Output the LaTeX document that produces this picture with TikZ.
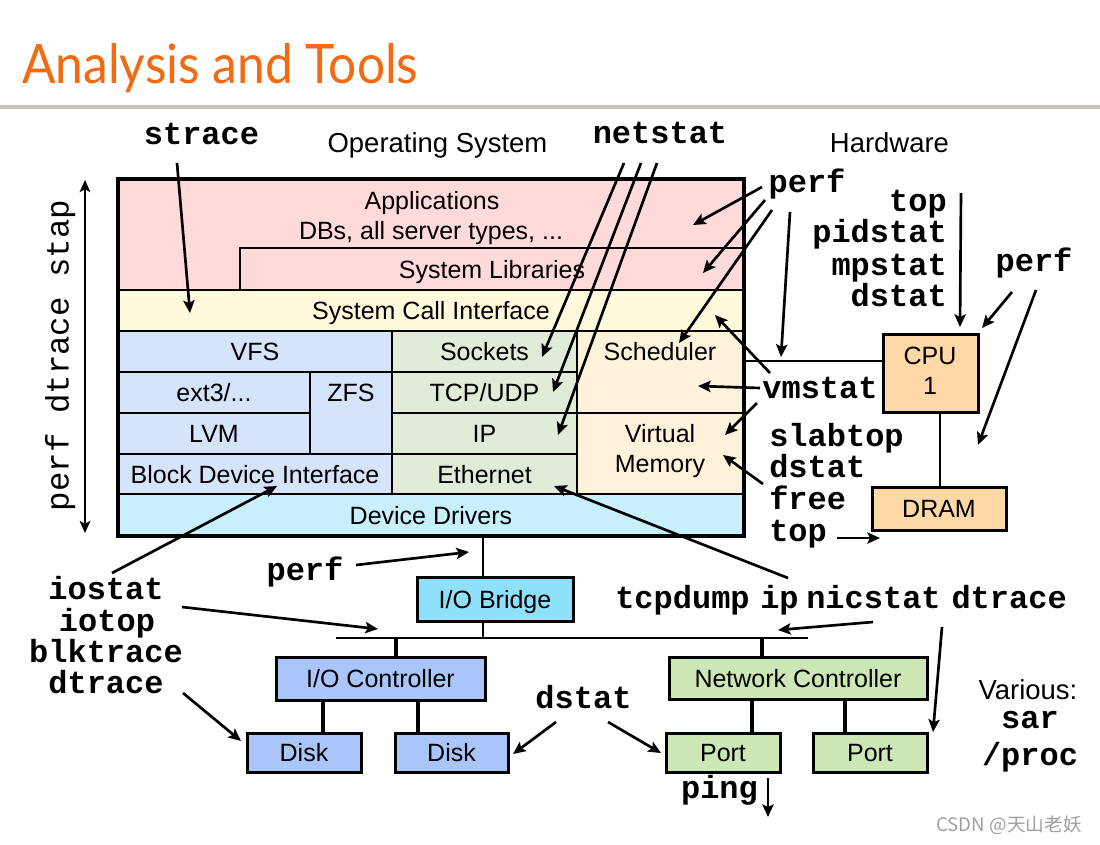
\documentclass[tikz,border=0pt]{standalone}
\usepackage{graphicx}
\usepackage{fontspec}
\setmainfont{Liberation Sans}
\newfontfamily\monof{Liberation Mono}
\newfontfamily\titlef{Lato}
\newfontfamily\cjkf{Noto Sans CJK SC}
\usetikzlibrary{arrows.meta,fit}
\definecolor{torange}{RGB}{243,106,18}
\definecolor{tgray}{RGB}{200,196,188}
\definecolor{cpink}{RGB}{255,218,218}
\definecolor{cyellow}{RGB}{255,250,220}
\definecolor{cblue}{RGB}{213,228,251}
\definecolor{cgreen}{RGB}{224,236,215}
\definecolor{corange}{RGB}{255,242,219}
\definecolor{ccyan}{RGB}{200,239,252}
\definecolor{cpeach}{RGB}{255,216,168}
\definecolor{cbridge}{RGB}{143,225,251}
\definecolor{cmblue}{RGB}{169,197,250}
\definecolor{cmgreen}{RGB}{205,232,182}
\definecolor{wmgray}{RGB}{160,160,160}
\newcommand\bxf{\fontsize{18.75pt}{22pt}\selectfont}
\newcommand\hdf{\fontsize{20.6pt}{24pt}\selectfont}
\newcommand\mnf{\monof\bfseries\fontsize{24pt}{26pt}\selectfont}
\newcommand\mnrf{\monof\fontsize{24.3pt}{26pt}\selectfont}
\begin{document}
\begin{tikzpicture}[x=0.75pt,y=-0.75pt,
  osbox/.style={draw, line width=2pt, inner sep=0pt},
  hwbox/.style={draw, line width=2.25pt, inner sep=0pt},
  sans/.style={inner sep=0pt, font=\bxf, text height=13.5pt, text depth=0pt},
  head/.style={inner sep=0pt, font=\hdf, text height=14.8pt, text depth=0pt},
  tool/.style={inner sep=0pt, font=\mnf, text height=12.7pt, text depth=0pt},
  arr/.style={line width=2pt, -{Stealth[length=9.5pt,width=8.5pt,inset=2pt]}},
  thinline/.style={line width=1.2pt},
  thickline/.style={line width=2.4pt}]
\useasboundingbox (0,0) rectangle (1100,844);
\fill[white] (0,0) rectangle (1100,844);
% title
\node[anchor=base west, inner sep=0pt, text=torange] (title) at (22,83) {\resizebox{297pt}{30pt}{\titlef Analysis and Tools}};
\draw[line width=3pt, tgray] (0,107) -- (1100,107);
% OS stack
\node[osbox, fill=cpink, fit={(118,179) (744,290)}] (apps) {};
\node[osbox, fill=cpink, fit={(240,248) (744,290)}] (syslib) {};
\node[osbox, fill=cyellow, fit={(118,290) (744,331)}] (sci) {};
\node[osbox, fill=cblue, fit={(118,331) (392,372)}] (vfs) {};
\node[osbox, fill=cgreen, fit={(392,331) (577,372)}] (sockets) {};
\node[osbox, fill=corange, fit={(577,331) (744,413)}] (sched) {};
\node[osbox, fill=cblue, fit={(118,372) (310,413)}] (ext3) {};
\node[osbox, fill=cblue, fit={(310,372) (392,454)}] (zfs) {};
\node[osbox, fill=cgreen, fit={(392,372) (577,413)}] (tcp) {};
\node[osbox, fill=cblue, fit={(118,413) (310,454)}] (lvm) {};
\node[osbox, fill=cgreen, fit={(392,413) (577,454)}] (ip) {};
\node[osbox, fill=corange, fit={(577,413) (744,494)}] (vm) {};
\node[osbox, fill=cblue, fit={(118,454) (392,494)}] (bdi) {};
\node[osbox, fill=cgreen, fit={(392,454) (577,494)}] (eth) {};
\node[osbox, fill=ccyan, fit={(118,494) (744,536)}] (dd) {};
\node[draw, line width=2.6pt, inner sep=0pt, fit={(118,179) (744,536)}] (os) {};
\node[sans] (appt1) at (432,200) {Applications};
\node[sans] (appt2) at (431,230) {DBs, all server types, ...};
\node[sans] (syslibt) at (syslib) {System Libraries};
\node[sans] (scit) at (sci) {System Call Interface};
\node[sans] (vfst) at (vfs) {VFS};
\node[sans] (sockt) at (sockets) {Sockets};
\node[sans] (ext3t) at (ext3) {ext3/...};
\node[sans] (tcpt) at (tcp) {TCP/UDP};
\node[sans] (lvmt) at (lvm) {LVM};
\node[sans] (ipt) at (ip) {IP};
\node[sans] (bdit) at (bdi) {Block Device Interface};
\node[sans] (etht) at (eth) {Ethernet};
\node[sans] (ddt) at (dd) {Device Drivers};
\node[sans] (schedt) at (660,351) {Scheduler};
\node[sans] (zfst) at (351,392) {ZFS};
\node[sans] (vmt1) at (660,433) {Virtual};
\node[sans] (vmt2) at (660,463) {Memory};
% headers
\node[head] (hos) at (437.5,143) {Operating System};
\node[head] (hhw) at (889.5,143) {Hardware};
% hardware boxes
\node[hwbox, fill=cpeach, fit={(883,334) (978,412)}] (cpu) {};
\node[sans] (cput1) at (930,355) {CPU};
\node[sans] (cput2) at (930,385) {1};
\node[hwbox, fill=cpeach, fit={(872,487) (1006,530)}] (dram) {};
\node[sans] (dramt) at (dram) {DRAM};
\node[hwbox, fill=cbridge, fit={(417,577) (573,621)}] (bridge) {};
\node[sans] (bridget) at (bridge) {I/O Bridge};
\node[hwbox, fill=cmblue, fit={(276,657) (485,700)}] (ioc) {};
\node[sans] (ioct) at (ioc) {I/O Controller};
\node[hwbox, fill=cmblue, fit={(247,733) (361,772)}] (disk1) {};
\node[sans] (disk1t) at (disk1) {Disk};
\node[hwbox, fill=cmblue, fit={(395,733) (508,772)}] (disk2) {};
\node[sans] (disk2t) at (disk2) {Disk};
\node[hwbox, fill=cmgreen, fit={(669,657) (927,699)}] (nc) {};
\node[sans] (nct) at (nc) {Network Controller};
\node[hwbox, fill=cmgreen, fit={(666,733) (780,772)}] (port1) {};
\node[sans] (port1t) at (port1) {Port};
\node[hwbox, fill=cmgreen, fit={(813,733) (927,772)}] (port2) {};
\node[sans] (port2t) at (port2) {Port};
% plain connections
\coordinate (oscpu) at (744,361);
\draw[thinline] (oscpu) -- (oscpu -| cpu.west);
\coordinate (cpudram) at (940,412);
\draw[line width=1.5pt] (cpudram) -- (cpudram |- dram.north);
\coordinate (ddb) at (483,536);
\draw[thinline] (ddb) -- (ddb |- bridge.north);
\coordinate (busL) at (336,638);
\coordinate (busR) at (808,638);
\draw[thinline] (ddb |- bridge.south) -- (ddb |- busL);
\draw[line width=2.2pt] (busL) -- (busR);
\coordinate (bioc) at (396,638);
\draw[line width=2.8pt] (bioc) -- (bioc |- ioc.north);
\coordinate (id1) at (323,700);
\coordinate (id2) at (418,700);
\draw[thickline] (id1) -- (id1 |- disk1.north);
\draw[thickline] (id2) -- (id2 |- disk2.north);
\coordinate (bnc) at (762,638);
\draw[line width=2.8pt] (bnc) -- (bnc |- nc.north);
\coordinate (np1) at (752,699);
\coordinate (np2) at (845,699);
\draw[thickline] (np1) -- (np1 |- port1.north);
\draw[thickline] (np2) -- (np2 |- port2.north);
% tool labels
\node[tool] (strace) at (201.5,136) {strace};
\node[tool] (netstat) at (660,135) {netstat};
\node[tool] (perfa) at (807,184) {perf};
\node[tool, anchor=east] (topa) at (947,203) {top};
\node[tool, anchor=east] (pidstat) at (947,234) {pidstat};
\node[tool, anchor=east] (mpstat) at (947,267) {mpstat};
\node[tool, anchor=east] (dstata) at (947,298) {dstat};
\node[tool] (perfb) at (1034,263) {perf};
\node[tool] (vmstat) at (820,390) {vmstat};
\node[tool, anchor=west] (slabtop) at (769,438) {slabtop};
\node[tool, anchor=west] (dstatb) at (769,469) {dstat};
\node[tool, anchor=west] (free) at (769,501) {free};
\node[tool, anchor=west] (topb) at (769,533) {top};
\node[tool] (perfc) at (305,572) {perf};
\node[tool] (iostat) at (106,591) {iostat};
\node[tool] (iotop) at (107,623) {iotop};
\node[tool] (blktrace) at (106,654) {blktrace};
\node[tool] (dtracea) at (106,685) {dtrace};
\node[tool] (dstatc) at (583.5,700) {dstat};
\node[tool, anchor=west] (tcpdump) at (615,600) {tcpdump};
\node[tool, anchor=west] (iptool) at (760,600) {ip};
\node[tool, anchor=west] (nicstat) at (806,600) {nicstat};
\node[tool, anchor=east] (dtraceb) at (1067,600) {dtrace};
\node[tool] (ping) at (719.5,790) {ping};
\node[sans, font=\hdf] (various) at (1028,690) {Various:};
\node[tool] (sar) at (1030,720) {sar};
\node[tool] (proc) at (1030,757) {/proc};
\node[inner sep=0pt, rotate=90, font=\mnrf, text height=12.9pt, text depth=0pt] (vtools) at (60,355.5) {perf dtrace stap};
\node[inner sep=0pt, font=\cjkf\fontsize{14pt}{16pt}\selectfont, text=wmgray] (wm) at (1009,825) {CSDN @天山老妖};
% arrows
\coordinate (s1) at (177,163);  \coordinate (e1) at (190,313);
\coordinate (s2) at (624,163);  \coordinate (e2) at (542,357);
\coordinate (s3) at (641,163);  \coordinate (e3) at (553,392);
\coordinate (s4) at (657,163);  \coordinate (e4) at (558,435);
\coordinate (s5) at (762,187);  \coordinate (e5) at (693,225);
\coordinate (s6) at (765,200);  \coordinate (e6) at (703,273);
\coordinate (s7) at (772,210);  \coordinate (e7) at (679,343);
\coordinate (s8) at (790,212);  \coordinate (e8) at (781,357);
\coordinate (s9) at (961,193);  \coordinate (e9) at (960,327);
\coordinate (s10) at (1012,292); \coordinate (e10) at (982,328);
\coordinate (s11) at (1036,290); \coordinate (e11) at (978,445);
\coordinate (s12) at (770,373); \coordinate (e12) at (715,315);
\coordinate (s13) at (760,388); \coordinate (e13) at (698,386);
\coordinate (s14) at (757,403); \coordinate (e14) at (725,435);
\coordinate (s15) at (763,484); \coordinate (e15) at (723,455);
\coordinate (s16) at (837,538); \coordinate (e16) at (880,538);
\coordinate (s17) at (788,578); \coordinate (e17) at (554,486);
\coordinate (s18) at (873,622); \coordinate (e18) at (778,630);
\coordinate (s19) at (942,627); \coordinate (e19) at (933,732);
\coordinate (s20) at (112,573); \coordinate (e20) at (277,486);
\coordinate (s21) at (182,607); \coordinate (e21) at (378,629);
\coordinate (s22) at (183,693); \coordinate (e22) at (241,741);
\coordinate (s23) at (556,722); \coordinate (e23) at (513,754);
\coordinate (s24) at (608,722); \coordinate (e24) at (661,753);
\coordinate (s25) at (356,565); \coordinate (e25) at (469,552);
\coordinate (s26) at (768,778); \coordinate (e26) at (768,817);
\foreach \i in {1,...,26} {\draw[arr] (s\i) -- (e\i);}
\coordinate (va) at (85,180); \coordinate (vb) at (85,533);
\draw[line width=1.5pt, {Stealth[length=9pt,width=8pt,inset=2pt]}-{Stealth[length=9pt,width=8pt,inset=2pt]}] (va) -- (vb);
\end{tikzpicture}
\end{document}
